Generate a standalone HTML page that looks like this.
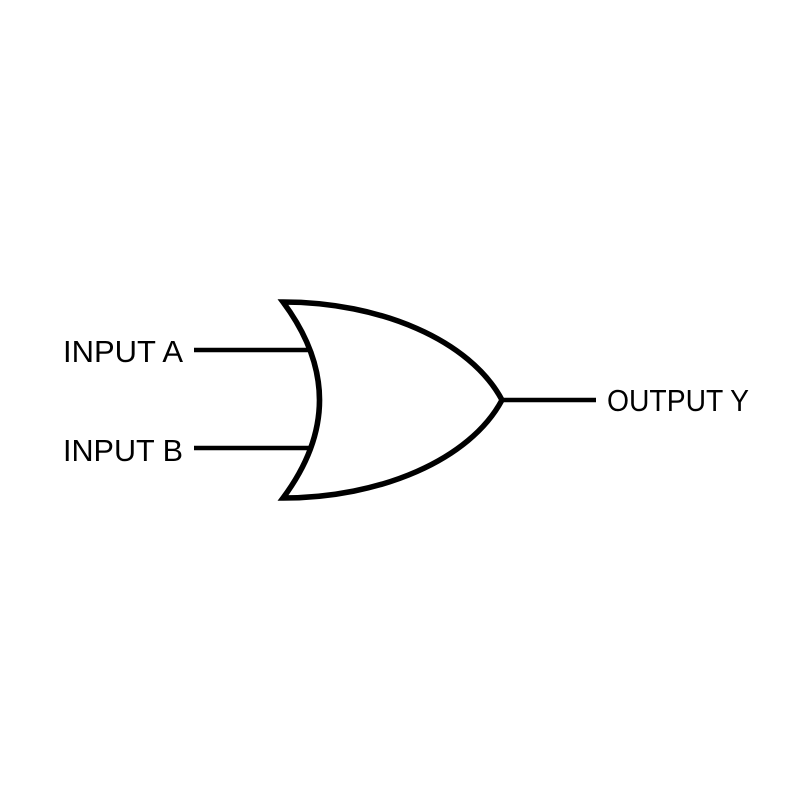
<!DOCTYPE html>
<html>
<head>
<meta charset="utf-8">
<style>
  html, body { margin: 0; padding: 0; background: #ffffff; }
  svg { display: block; }
  text { font-family: "Liberation Sans", sans-serif; font-size: 31px; fill: #000; }
</style>
</head>
<body>
<svg width="800" height="800" viewBox="0 0 800 800" xmlns="http://www.w3.org/2000/svg">
  <rect width="800" height="800" fill="#ffffff"/>
  <!-- input lines -->
  <line x1="194" y1="350" x2="310" y2="350" stroke="#000" stroke-width="4.5"/>
  <line x1="194" y1="448" x2="311" y2="448" stroke="#000" stroke-width="4.5"/>
  <!-- output line -->
  <line x1="500" y1="400" x2="596" y2="400" stroke="#000" stroke-width="4.5"/>
  <!-- OR gate body -->
  <path d="M283,302 C380,302 470,340 502,400 C470,460 380,498 283,498 Q356,400 283,302 Z"
        fill="#fff" stroke="#000" stroke-width="5.5" stroke-linejoin="miter" stroke-miterlimit="10"/>
  <!-- labels -->
  <text x="63" y="362" textLength="120" lengthAdjust="spacingAndGlyphs">INPUT A</text>
  <text x="63" y="461" textLength="120" lengthAdjust="spacingAndGlyphs">INPUT B</text>
  <text x="607" y="411" textLength="142" lengthAdjust="spacingAndGlyphs">OUTPUT Y</text>
</svg>
</body>
</html>
